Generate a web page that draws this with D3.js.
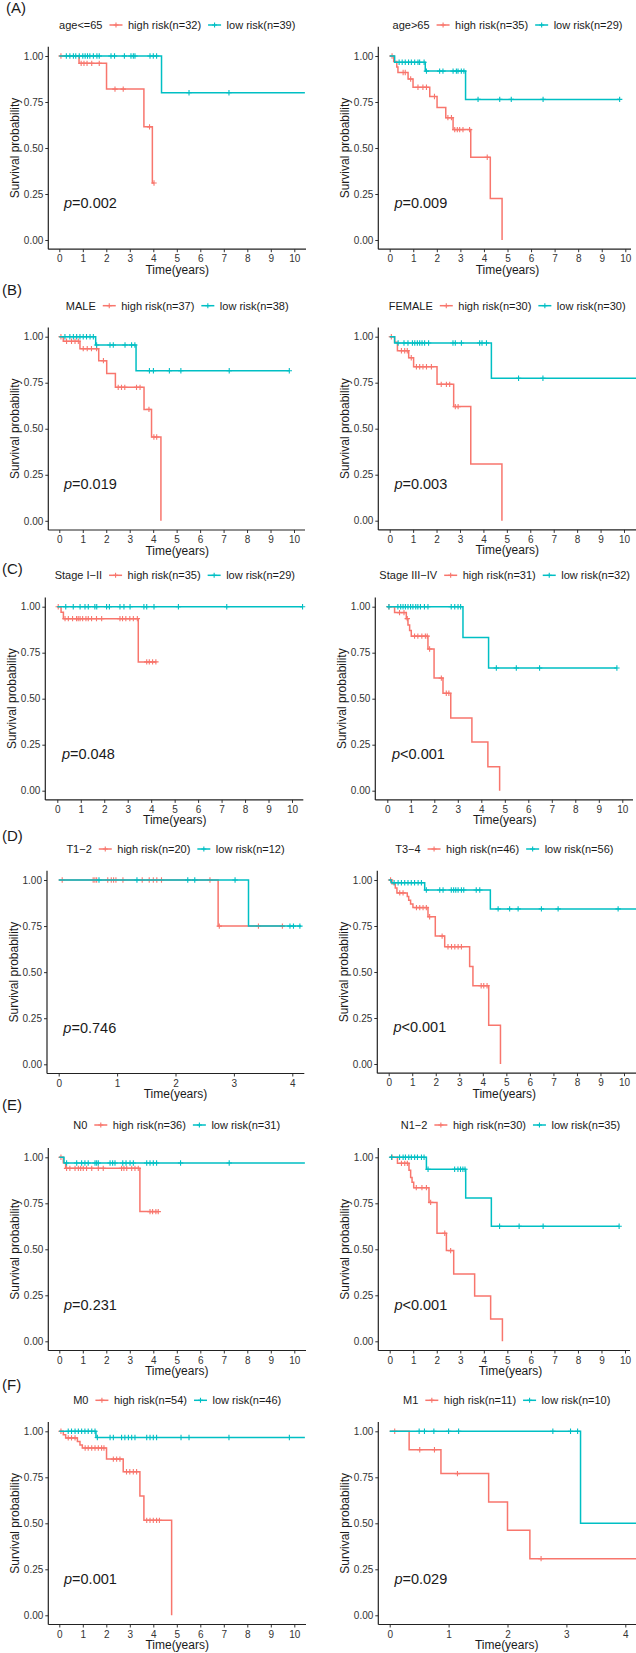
<!DOCTYPE html>
<html>
<head>
<meta charset="utf-8">
<script src="https://cdn.jsdelivr.net/npm/d3@7"></script>
<style>
body { margin: 0; background: #fff; }
text { font-family: "Liberation Sans", Arial, sans-serif; fill: #1a1a1a; }
</style>
</head>
<body>
<div id="chart"></div>
<script>
// ---- data ----
var rowLetters = ["(A)", "(B)", "(C)", "(D)", "(E)", "(F)"]
var groupLabels = ["age<=65", "age>65", "MALE", "FEMALE", "Stage I\u2212II", "Stage III\u2212IV",
  "T1\u22122", "T3\u22124", "N0", "N1\u22122", "M0", "M1"]
var highN = [32, 35, 37, 30, 35, 31, 20, 46, 36, 30, 54, 11]
var lowN = [39, 29, 38, 30, 29, 32, 12, 56, 31, 35, 46, 10]
var pSign = ["=", "=", "=", "=", "=", "<", "=", "<", "=", "<", "=", "="]
var pValues = ["0.002", "0.009", "0.019", "0.003", "0.048", "0.001", "0.746", "0.001", "0.231", "0.001", "0.001", "0.029"]
var xTickMax = [10, 10, 10, 10, 10, 10, 4, 10, 10, 10, 10, 4]
var yTicks = [0, 0.25, 0.5, 0.75, 1]

// step curves: [time, survival from that time on]; last point = end of curve
var highSteps = [
  [[0,1],[0.84,0.96],[2.01,0.82],[3.6,0.615],[3.96,0.31],[4.03,0.31]],
  [[0,1],[0.17,0.97],[0.3,0.94],[0.35,0.91],[0.78,0.875],[0.99,0.83],[1.7,0.78],[2.01,0.72],[2.38,0.665],[2.69,0.6],[3.44,0.45],[4.27,0.225],[4.77,0]],
  [[0,1],[0.17,0.975],[0.88,0.935],[1.68,0.87],[2.02,0.8],[2.39,0.725],[3.61,0.605],[3.93,0.455],[4.33,0]],
  [[0,1],[0.21,0.97],[0.33,0.924],[0.81,0.886],[1.02,0.837],[2.02,0.741],[2.73,0.62],[3.46,0.308],[4.79,0]],
  [[0,1],[0.16,0.97],[0.26,0.935],[3.45,0.7],[4.22,0.7]],
  [[0,1],[0.31,0.968],[0.81,0.935],[0.88,0.9],[0.95,0.87],[1.02,0.84],[1.73,0.77],[1.99,0.612],[2.37,0.53],[2.7,0.395],[3.6,0.265],[4.28,0.13],[4.78,0]],
  [[0,1],[2.73,0.75],[3.85,0.75]],
  [[0,1],[0.14,0.98],[0.28,0.957],[0.35,0.93],[0.79,0.91],[0.85,0.89],[0.93,0.87],[1.03,0.85],[1.67,0.8],[1.98,0.695],[2.38,0.637],[3.44,0.53],[3.58,0.425],[4.25,0.21],[4.75,0]],
  [[0,1],[0.17,0.97],[0.27,0.94],[3.43,0.705],[4.22,0.705]],
  [[0,1],[0.33,0.967],[0.82,0.93],[0.89,0.89],[0.95,0.865],[1.02,0.835],[1.67,0.755],[2.01,0.587],[2.41,0.493],[2.72,0.366],[3.61,0.246],[4.29,0.121],[4.79,0]],
  [[0,1],[0.17,0.981],[0.27,0.964],[0.77,0.945],[0.88,0.926],[0.98,0.909],[2.01,0.849],[2.72,0.78],[3.43,0.649],[3.6,0.516],[4.78,0]],
  [[0,1],[0.33,0.9],[0.87,0.77],[1.68,0.616],[2.0,0.462],[2.38,0.308],[4.3,0.308]]
]
var lowSteps = [
  [[0,1],[4.35,0.8],[10.45,0.8]],
  [[0,1],[0.21,0.966],[1.51,0.918],[3.22,0.764],[9.76,0.764]],
  [[0,1],[1.55,0.955],[3.27,0.815],[9.8,0.815]],
  [[0,1],[0.21,0.966],[4.34,0.774],[10.6,0.774]],
  [[0,1],[10.45,1]],
  [[0,1],[3.22,0.833],[4.31,0.667],[9.77,0.667]],
  [[0,1],[3.25,0.75],[4.15,0.75]],
  [[0,1],[0.11,0.985],[1.53,0.946],[4.32,0.843],[10.6,0.843]],
  [[0,1],[0.2,0.969],[10.45,0.969]],
  [[0,1],[1.56,0.935],[3.23,0.779],[4.32,0.625],[9.75,0.625]],
  [[0,1],[1.56,0.966],[10.45,0.966]],
  [[0,1],[3.24,0.5],[4.3,0.5]]
]
// censoring times
var highCens = [
  [0.07,0.93,1.05,1.18,1.38,1.7,2.37,2.72,3.84,4.03],
  [0.1,0.57,0.66,0.89,1.2,1.41,1.56,1.9,2.47,2.62,2.76,2.87,2.97,3.11,3.39,4.14],
  [0.07,0.31,0.52,0.67,0.81,1.02,1.19,1.37,1.59,1.88,2.51,2.65,2.79,3.29,3.44,3.82,4.03,4.15],
  [0.07,0.5,0.64,0.75,0.92,1.14,1.28,1.42,1.57,1.78,2.2,2.42,2.56,2.8,2.92],
  [0.04,0.33,0.47,0.65,0.82,0.89,0.97,1.08,1.22,1.32,1.46,1.67,1.89,2.67,2.78,2.92,3.09,3.24,3.41,3.81,3.92,4.06,4.2],
  [0.07,0.52,0.71,0.85,1.16,1.3,1.47,1.62,1.7,1.8,2.3,2.51,2.62],
  [0.06,0.59,0.62,0.65,0.84,0.9,0.94,0.98,1.1,1.43,1.55,1.62,1.68,1.76,2.59,2.75,3.42,3.83],
  [0.08,0.47,0.61,1.18,1.32,1.46,1.6,1.74,2.27,2.52,2.67,2.81,2.95,3.09,3.93,4.04,4.18],
  [0.07,0.31,0.45,0.67,0.81,0.91,1.02,1.16,1.38,1.66,1.87,2.65,2.75,2.87,3.08,3.22,3.36,3.86,3.97,4.11,4.21],
  [0.1,0.5,0.64,0.75,1.13,1.37,1.56,1.74,2.34,2.59],
  [0.07,0.38,0.52,0.67,1.1,1.23,1.38,1.52,1.66,1.8,1.9,2.3,2.44,2.58,2.86,3.0,3.15,3.29,3.72,3.86,4.0,4.14,4.26],
  [0.085,0.51,0.76,1.15,2.57]
]
var lowCens = [
  [0.3,0.45,0.6,0.7,0.85,1.0,1.1,1.2,1.3,1.45,1.6,1.7,2.2,2.35,2.77,3.05,3.15,3.22,3.86,4.0,4.14,5.52,7.22],
  [0.4,0.53,0.66,0.8,0.92,1.06,1.2,1.27,1.46,1.56,2.12,2.26,2.69,2.83,2.9,3.04,3.15,3.75,4.67,5.16,6.51,9.76],
  [0.24,0.45,0.6,0.74,0.88,1.02,1.16,1.31,1.45,1.59,2.16,2.3,2.8,3.08,3.22,3.84,4.01,4.69,5.18,7.24,9.8],
  [0.36,0.61,0.78,0.97,1.07,1.18,1.28,1.38,1.49,1.66,2.7,2.8,3.06,3.84,3.94,4.13,5.5,6.54],
  [0.36,0.68,0.97,1.18,1.32,1.6,1.68,2.1,2.22,2.67,2.84,3.1,3.69,3.81,4.12,5.16,7.22,10.45],
  [0.07,0.45,0.57,0.67,0.77,0.88,0.99,1.09,1.21,1.3,1.41,1.58,1.73,2.72,2.87,3.01,3.12,4.64,5.49,6.48,9.77],
  [0.69,1.34,2.21,2.33,3.02,3.96,4.02,4.13],
  [0.23,0.4,0.54,0.68,0.82,0.96,1.1,1.25,1.39,1.6,2.17,2.31,2.66,2.76,2.85,2.95,3.09,3.19,3.72,3.87,4.65,5.14,5.5,6.49,7.2,9.75],
  [0.31,0.74,0.95,1.09,1.23,1.52,1.59,1.66,2.16,2.27,2.37,2.7,2.84,3.01,3.15,3.72,3.86,4.0,4.14,5.16,7.23],
  [0.08,0.42,0.57,0.67,0.81,0.92,1.06,1.18,1.35,1.46,1.63,2.76,2.9,3.01,3.11,3.2,4.67,5.5,6.52,9.75],
  [0.38,0.52,0.67,0.81,0.95,1.09,1.23,1.38,1.52,1.62,2.16,2.3,2.65,2.79,2.94,3.08,3.22,3.72,3.86,4.0,4.14,5.18,5.52,7.22,9.79],
  [0.5,0.59,0.75,1.0,1.17,2.77,3.07,3.19]
]

// ---- layout (pixels) ----
var frames = [
  {left:48.3, right:306, x0:59.3, xT:294.3, y1:56, y0:240, cx:177.2},
  {left:378.3, right:631, x0:389.7, xT:625.3, y1:56, y0:240, cx:507.5},
  {left:48.3, right:305, x0:59.3, xT:294, y1:336.7, y0:520.8, cx:177.2},
  {left:378.3, right:640, x0:389.7, xT:624, y1:336.7, y0:520.7, cx:507.2},
  {left:45.3, right:303.3, x0:57.3, xT:292, y1:606.7, y0:790.7, cx:174.8},
  {left:375.3, right:633, x0:387.3, xT:622.3, y1:606.7, y0:790.7, cx:504.7},
  {left:47, right:304.3, x0:58.7, xT:292.3, y1:880, y0:1064.3, cx:175.5},
  {left:377.3, right:640, x0:388.7, xT:624, y1:880, y0:1064, cx:504.3},
  {left:48.3, right:306, x0:59.3, xT:294.3, y1:1157.3, y0:1341.3, cx:176.7},
  {left:378.3, right:630, x0:389.7, xT:625, y1:1157.3, y0:1341.3, cx:510.5},
  {left:48.3, right:306, x0:59.3, xT:294.3, y1:1431.3, y0:1615.3, cx:177.2},
  {left:378.3, right:640, x0:389.7, xT:625.3, y1:1431.3, y0:1615.3, cx:506.7}
]
var letterPos = [[6, 7], [2, 289], [2, 568], [2, 835], [2, 1104], [2, 1384]]
var legendY = [25, 305.7, 575.3, 849, 1125, 1400.3]

var red = '#F8766D', teal = '#00BFC4'

var svg = d3.select('#chart').append('svg')
  .attr('width', 636).attr('height', 1653)
  .style('display', 'block')

rowLetters.forEach(function(l, r){
  svg.append('text')
    .attr('x', letterPos[r][0]).attr('y', letterPos[r][1])
    .attr('dominant-baseline', 'central')
    .style('font-size', '15px')
    .text(l)
})

function survAt(steps, t){
  var s = steps[0][1]
  steps.forEach(function(d){ if (d[0] <= t) s = d[1] })
  return s
}

frames.forEach(function(f, i){
  var g = svg.append('g')
  var x = d3.scaleLinear().domain([0, xTickMax[i]]).range([f.x0, f.xT])
  var y = d3.scaleLinear().domain([0, 1]).range([f.y0, f.y1])
  var yBot = y(-0.05), yTop = y(1.05)

  // x axis
  var xAxis = d3.axisBottom(x).tickValues(d3.range(0, xTickMax[i] + 1))
    .tickSize(3).tickPadding(3).tickFormat(d3.format('d'))
  var xg = g.append('g').attr('transform', 'translate(0,' + yBot + ')').call(xAxis)
  xg.select('.domain').remove()
  xg.selectAll('line').attr('stroke', '#333')
  xg.selectAll('text').style('font-size', '10px').style('fill', '#333')
  g.append('line').attr('x1', f.left).attr('x2', f.right).attr('y1', yBot).attr('y2', yBot)
    .attr('stroke', '#222').attr('stroke-width', 1.2)

  // y axis
  var yAxis = d3.axisLeft(y).tickValues(yTicks).tickSize(3).tickPadding(2).tickFormat(d3.format('.2f'))
  var yg = g.append('g').attr('transform', 'translate(' + f.left + ',0)').call(yAxis)
  yg.select('.domain').remove()
  yg.selectAll('line').attr('stroke', '#333')
  yg.selectAll('text').style('font-size', '10px').style('fill', '#333')
  g.append('line').attr('x1', f.left).attr('x2', f.left).attr('y1', yTop).attr('y2', yBot)
    .attr('stroke', '#222').attr('stroke-width', 1.2)

  // axis titles
  g.append('text').attr('x', f.cx).attr('y', yBot + 20.5)
    .attr('text-anchor', 'middle').attr('dominant-baseline', 'central')
    .style('font-size', '12px').text('Time(years)')
  g.append('text')
    .attr('transform', 'translate(' + (f.left - 33) + ',' + ((f.y0 + f.y1) / 2) + ') rotate(-90)')
    .attr('text-anchor', 'middle').attr('dominant-baseline', 'central')
    .style('font-size', '12px').text('Survival probability')

  // curves
  var line = d3.line().x(function(d){ return x(d[0]) }).y(function(d){ return y(d[1]) })
    .curve(d3.curveStepAfter)
  var series = [[highSteps[i], highCens[i], red], [lowSteps[i], lowCens[i], teal]]
  series.forEach(function(s){
    g.append('path').attr('d', line(s[0]))
      .attr('fill', 'none').attr('stroke', s[2]).attr('stroke-width', 1.5)
    g.append('g').selectAll('path').data(s[1]).enter().append('path')
      .attr('d', function(t){
        var px = x(t), py = y(survAt(s[0], t))
        return 'M' + (px - 2.7) + ',' + py + 'h5.4M' + px + ',' + (py - 2.7) + 'v5.4'
      })
      .attr('stroke', s[2]).attr('stroke-width', 1.1)
  })

  // p value
  var pt = g.append('text').attr('x', x(xTickMax[i] / 50)).attr('y', y(0.2) + 5.2)
    .style('font-size', '14.5px')
  pt.append('tspan').style('font-style', 'italic').text('p')
  pt.append('tspan').text(pSign[i] + pValues[i])

  // legend
  var lg = svg.append('g')
  var cx = 0
  function addText(str){
    var t = lg.append('text').attr('x', cx).attr('y', 0)
      .attr('dominant-baseline', 'central').style('font-size', '11px').text(str)
    cx += t.node().getComputedTextLength()
  }
  function addKey(col){
    lg.append('line').attr('x1', cx).attr('x2', cx + 13).attr('y1', 0).attr('y2', 0)
      .attr('stroke', col).attr('stroke-width', 1.5)
    lg.append('path').attr('d', 'M' + (cx + 4) + ',0h5M' + (cx + 6.5) + ',-2.5v5')
      .attr('stroke', col).attr('stroke-width', 1.1)
    cx += 13
  }
  addText(groupLabels[i]); cx += 7
  addKey(red); cx += 5.5
  addText('high risk(n=' + highN[i] + ')'); cx += 7
  addKey(teal); cx += 5.5
  addText('low risk(n=' + lowN[i] + ')')
  lg.attr('transform', 'translate(' + (f.cx - cx / 2) + ',' + legendY[Math.floor(i / 2)] + ')')
})
</script>
</body>
</html>
